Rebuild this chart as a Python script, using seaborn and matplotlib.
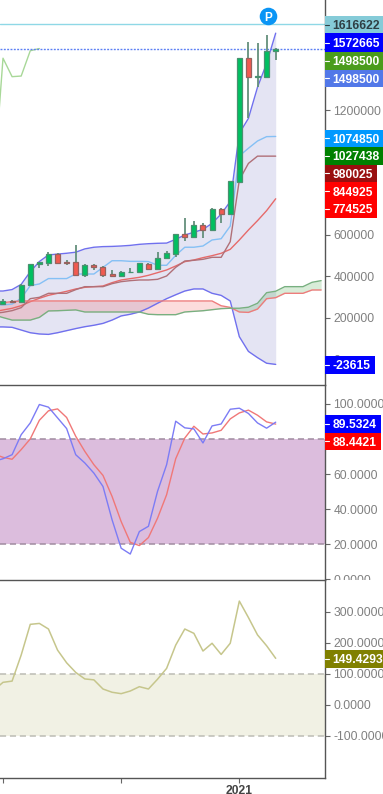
import numpy as np
import pandas as pd
import matplotlib
matplotlib.use('Agg')
import matplotlib.pyplot as plt
from matplotlib.patches import Rectangle
from matplotlib.transforms import Bbox
import seaborn as sns

# Candles, in thousands
opens = [269, 283, 279, 361, 460, 467, 507, 471, 470, 406, 457, 446, 410, 402, 420, 420,
         462, 435, 489, 508, 603, 592, 650, 622, 725, 701, 857, 1452, 1360, 1363, 1488]
closes = [282, 277, 361, 459, 470, 508, 467, 467, 407, 457, 444, 406, 404, 422, 423, 463,
          435, 489, 512, 603, 590, 650, 622, 725, 703, 860, 1452, 1363, 1366, 1488, 1498.5]
highs = [293, 288, 362, 460, 471, 520, 511, 480, 552, 460, 458, 451, 430, 427, 443, 467,
         465, 516, 523, 606, 683, 669, 660, 732, 730, 862, 1455, 1529, 1524, 1565, 1500]
lows = [269, 275, 279, 360, 439, 451, 460, 454, 402, 396, 431, 398, 401, 396, 418, 418,
        432, 431, 486, 496, 573, 590, 587, 620, 659, 700, 855, 1162, 1312, 1360, 1443]

# Overlays, the first value sits one bar left of the visible area
bb_upper = [330, 330, 337, 362, 423, 472, 504, 508, 512, 517, 533, 541, 544, 545, 547, 550,
            555, 558, 560, 561, 579, 600, 613, 627, 656, 701, 761, 1090, 1162, 1312, 1427, 1572.665]
bb_mid = [263, 263, 267, 295, 356, 364, 390, 390, 390, 412, 412, 412, 444, 476, 476, 473,
          473, 472, 454, 454, 502, 541, 541, 547, 576, 582, 643, 981, 1018, 1053, 1074, 1074.85]
bb_lower = [157, 157, 155, 142, 129, 123, 121, 129, 139, 149, 158, 165, 174, 190, 210, 218,
            229, 248, 271, 293, 312, 330, 340, 340, 319, 309, 282, 110, 39, 9, -18, -23.615]
ma_line = [230.6, 238.6, 246.6, 259.5, 278.7, 294.8, 309.3, 318.9, 328.6, 339.8, 347.8, 351,
           354.3, 370.3, 383.2, 389.6, 396, 405.7, 418.5, 431.4, 450.6, 471.5, 479.6, 490.8,
           500.4, 511.7, 531, 575.9, 624.1, 669.1, 717.3, 774.525]
base_line = [222.5, 227.3, 235.4, 249.8, 293.2, 299.6, 318.9, 318.9, 318.9, 336.6, 351, 351,
             351, 365.5, 375.1, 380, 383.2, 383.2, 386.4, 402.4, 444.2, 474.7, 478, 482.8,
             492.4, 492.4, 567.9, 865, 945, 980, 980, 980.025]
span_red = [271, 274, 279] + [282] * 22 + [259, 251, 229, 227, 243, 293, 298, 319, 319, 319, 335, 335]
span_green = [215, 202, 190, 190, 190, 203, 234, 235, 237, 239, 229, 229, 229, 229, 229, 229, 229,
              218, 216, 216, 216, 229, 232, 235, 240, 245, 247, 247, 252, 271, 322, 329,
              351, 351, 351, 372, 380]

# Stochastic and CCI
stoch_k = [67.2, 68.7, 71.0, 82.4, 89.1, 99.6, 98.1, 92.0, 85.9, 71.0, 66.3, 60.5, 52.9, 33.9,
           17.7, 14.4, 27.2, 30.2, 50.1, 65.3, 90.1, 86.3, 85.7, 77.7, 87.4, 88.5, 96.9, 97.5,
           94.5, 89.1, 86.1, 89.5324]
stoch_d = [71.4, 69.5, 68.4, 73.9, 80.0, 90.6, 96.0, 97.1, 92.2, 81.5, 72.9, 65.3, 59.2, 47.2,
           32.9, 21.1, 19.2, 23.8, 34.8, 48.2, 68.7, 80.5, 87.2, 82.8, 83.4, 84.9, 91.4, 94.8,
           96.4, 93.5, 89.7, 88.4421]
cci = [47, 72, 76, 160, 259, 262, 244, 176, 135, 104, 83, 80, 50.5, 40, 35.5, 44, 58, 50.5, 82,
       117, 192, 244, 230, 173, 198, 162, 198, 334, 281, 225, 190, 149.4293]

# Only the ticks the price tags leave visible
price_ticks = [0, 200000, 400000, 600000, 1200000]
stoch_ticks = [0, 20, 40, 60, 100]
cci_ticks = [-100, 0, 100, 200, 300]
date_ticks = [0, 13, 26]
date_labels = ['', '', '2021']

# text, top px, bottom px, right px, background, text colour
tags = [('1616622', 16, 33.5, 383, '#85cbd8', '#2f3f44'),
        ('1572665', 33.5, 52, 383, '#0000ff', 'white'),
        ('1498500', 52, 69.5, 383, '#4a9c1c', 'white'),
        ('1498500', 69.5, 87, 383, '#5278e8', 'white'),
        ('1074850', 129.5, 147, 383, '#0099ff', 'white'),
        ('1027438', 147, 164.5, 383, '#008000', 'white'),
        ('980025', 164.5, 182, 377, '#990f0f', 'white'),
        ('844925', 182, 200, 377, '#ff0000', 'white'),
        ('774525', 200, 217.5, 377, '#ff0000', 'white'),
        ('-23615', 356, 373.5, 375, '#0000ff', 'white'),
        ('89.5324', 415, 432.5, 381, '#0000ff', 'white'),
        ('88.4421', 432.5, 450, 381, '#ff0000', 'white'),
        ('149.4293', 650, 667.5, 383, '#808000', 'white')]

W, H = 383, 794
AX_RIGHT = 324.5

sns.set_style('white')
plt.rcParams['font.family'] = ['Liberation Sans', 'DejaVu Sans']
plt.rcParams['font.size'] = 8.7

fig = plt.figure(figsize=(W / 100, H / 100), dpi=100)


def panel(top, bottom):
    ax = fig.add_axes([0, 1 - bottom / H, AX_RIGHT / W, (bottom - top) / H])
    ax.set_facecolor('none')
    return ax


ax1 = panel(0, 384.5)
ax2 = panel(384.5, 580)
ax3 = panel(580, 777.7)

x_candle = np.arange(len(closes))
x_line = np.arange(-1, len(closes))
x_span = np.arange(-1, len(span_red) - 1)

df = pd.DataFrame({'x': x_candle, 'open': opens, 'close': closes, 'high': highs, 'low': lows})
df[['open', 'close', 'high', 'low']] *= 1000
lines = pd.DataFrame({'x': x_line, 'upper': bb_upper, 'mid': bb_mid, 'lower': bb_lower,
                      'ma': ma_line, 'base': base_line})
lines[['upper', 'mid', 'lower', 'ma', 'base']] *= 1000
spans = pd.DataFrame({'x': x_span, 'red': span_red, 'green': span_green})
spans[['red', 'green']] *= 1000

# Price panel
ax1.fill_between(lines['x'], lines['lower'], lines['upper'], color='#2a2aa0', alpha=0.125, lw=0, zorder=1)
ax1.fill_between(spans['x'], spans['red'], spans['green'], where=spans['red'] >= spans['green'],
                 interpolate=True, color='#f05050', alpha=0.2, lw=0, zorder=1)
ax1.fill_between(spans['x'], spans['red'], spans['green'], where=spans['red'] <= spans['green'],
                 interpolate=True, color='#40a040', alpha=0.2, lw=0, zorder=1)

for col, color, width in [('upper', '#7070ee', 1.0), ('lower', '#7070ee', 1.0), ('mid', '#85c0f5', 1.0),
                          ('ma', '#e66a6a', 1.0), ('base', '#b07078', 1.0)]:
    sns.lineplot(data=lines, x='x', y=col, ax=ax1, color=color, lw=width, legend=False, zorder=2)
sns.lineplot(data=spans, x='x', y='red', ax=ax1, color='#ee7c7c', lw=1.0, legend=False, zorder=2)
sns.lineplot(data=spans, x='x', y='green', ax=ax1, color='#78b080', lw=1.0, legend=False, zorder=2)

# Lagging line is the last closes pushed back 26 bars
sns.lineplot(x=x_candle[25:] - 26, y=df['close'].values[25:], ax=ax1, color='#a8d898', lw=1.0,
             legend=False, zorder=2)

ax1.axhline(1616622, color='#8fd8e6', lw=1.0, zorder=2)
ax1.axhline(1498500, color='#5c80f4', lw=1.0, ls=(0, (1.4, 1.0)), zorder=2)

up = df['close'] >= df['open']
ax1.vlines(df['x'], df['low'], df['high'], color='#64907c', lw=1.3, zorder=3)
ax1.bar(df['x'][up], (df['close'] - df['open'])[up], bottom=df['open'][up], width=0.55,
        color='#00c060', edgecolor='#4a9070', lw=0.9, zorder=4)
ax1.bar(df['x'][~up], (df['open'] - df['close'])[~up], bottom=df['close'][~up], width=0.55,
        color='#f25a50', edgecolor='#96625e', lw=0.9, zorder=4)

# P marker
ax1.scatter([29.15], [1655000], s=160, color='#0a95f5', lw=0, zorder=5, clip_on=False)
ax1.text(29.15, 1655000, 'P', color='white', fontweight='bold', fontsize=8.5, ha='center',
         va='center_baseline', zorder=6)

ax1.set_ylim(-120500, 1732500)
ax1.set_yticks(price_ticks)
ax1.set_yticklabels([str(t) for t in price_ticks])

# Stochastic panel
ax2.axhspan(20, 80, color='#dcbddd', lw=0, zorder=1)
for level in [20, 80]:
    ax2.axhline(level, color='#a08ca0', lw=1.1, ls=(0, (4, 2.5)), zorder=2)
sns.lineplot(x=x_line, y=stoch_d, ax=ax2, color='#f07878', lw=1.0, legend=False, zorder=3)
sns.lineplot(x=x_line, y=stoch_k, ax=ax2, color='#7c7cf5', lw=1.0, legend=False, zorder=3)
ax2.set_ylim(-0.4, 111)
ax2.set_yticks(stoch_ticks)
ax2.set_yticklabels(['%.4f' % t for t in stoch_ticks])

# CCI panel
ax3.axhspan(-100, 100, color='#f1f1e4', lw=0, zorder=1)
for level in [-100, 100]:
    ax3.axhline(level, color='#bcbcb4', lw=1.1, ls=(0, (4, 2.5)), zorder=2)
sns.lineplot(x=x_line, y=cci, ax=ax3, color='#c6c68c', lw=1.1, legend=False, zorder=3)
ax3.set_ylim(-235.5, 402)
ax3.set_yticks(cci_ticks)
ax3.set_yticklabels(['%.4f' % t for t in cci_ticks])

for ax in [ax1, ax2, ax3]:
    ax.set_xlim(-0.33, 35.37)
    ax.set_xlabel('')
    ax.set_ylabel('')
    ax.yaxis.tick_right()
    ax.tick_params(axis='y', which='major', right=True, length=3.5, width=0.8, color='#666666',
                   labelcolor='#808080', labelsize=8.7, pad=3)
    for name in ['top', 'left']:
        ax.spines[name].set_visible(False)
    for name in ['right', 'bottom']:
        ax.spines[name].set_color('#555555')
        ax.spines[name].set_linewidth(1.0)

for ax in [ax1, ax2]:
    ax.set_xticks([])

ax3.set_xticks(date_ticks)
ax3.set_xticklabels(date_labels)
ax3.tick_params(axis='x', bottom=True, length=3.5, width=0.8, color='#666666',
                labelcolor='#444444', labelsize=8.7, pad=2)
for lab in ax3.get_xticklabels():
    lab.set_fontweight('bold')

# The 0.0000 label runs under the next panel's border
for lab in ax2.get_yticklabels():
    lab.set_clip_on(True)
    lab.set_clip_box(Bbox.from_extents(0, H - 580, W, H))

# Price tags sit on top of the tick labels
for text, top, bottom, right, bg, fg in tags:
    fig.add_artist(Rectangle((AX_RIGHT / W, 1 - bottom / H), (right - AX_RIGHT) / W, (bottom - top) / H,
                             transform=fig.transFigure, facecolor=bg, edgecolor='none', zorder=5))
    mid = (top + bottom) / 2
    fig.add_artist(plt.Line2D([AX_RIGHT / W, 329 / W], [1 - mid / H, 1 - mid / H], transform=fig.transFigure,
                              color=fg, lw=0.8, zorder=6))
    fig.text(332.5 / W, 1 - mid / H, text, color=fg, fontsize=8.7, fontweight='bold',
             ha='left', va='center_baseline', zorder=6)

fig.savefig('out.png', dpi=100)
